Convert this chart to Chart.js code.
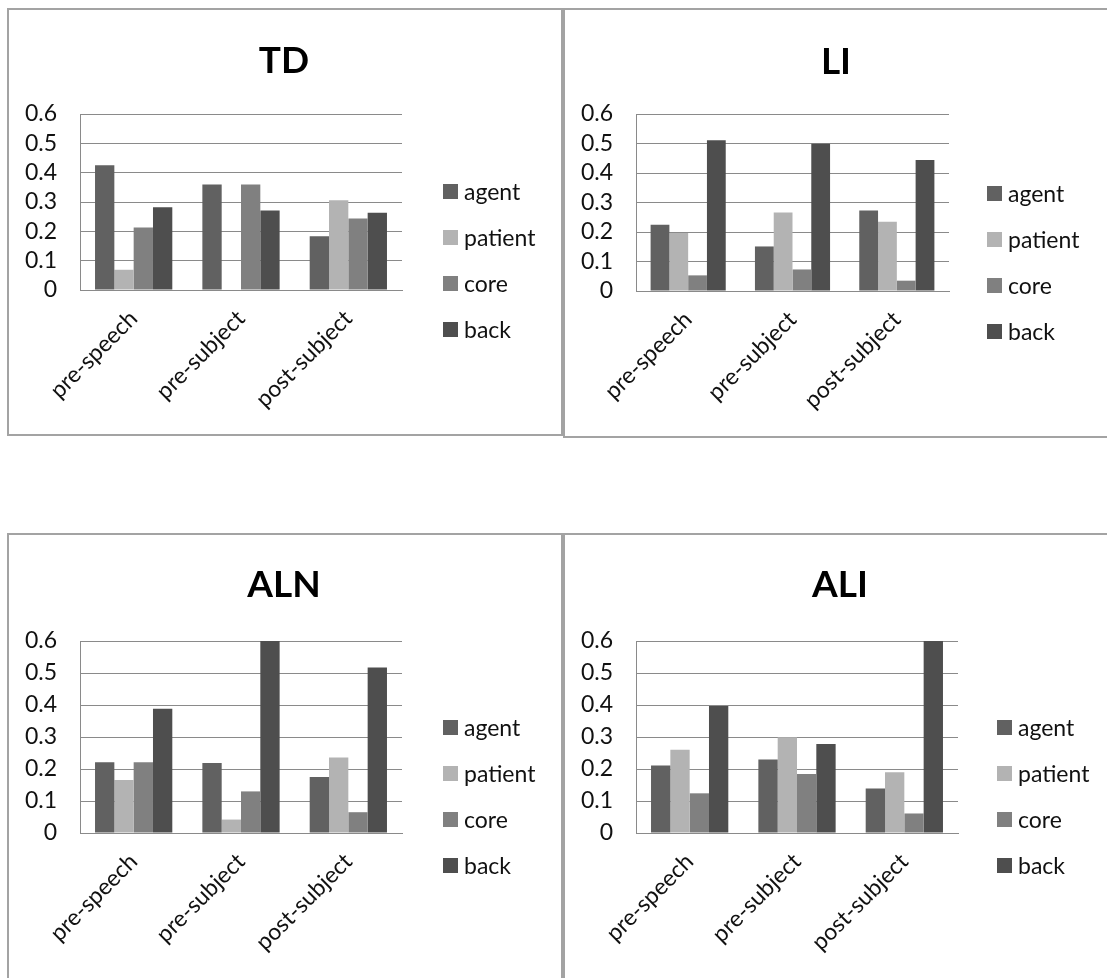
<!DOCTYPE html>
<html>
<head>
<meta charset="utf-8">
<script src="https://cdn.jsdelivr.net/npm/chart.js@4.4.1/dist/chart.umd.min.js"></script>
<style>
  html, body { margin: 0; padding: 0; background: #fff; }
  body { width: 1107px; height: 978px; position: relative; overflow: hidden; font-family: Lato, "Open Sans", sans-serif; }
  .panel { position: absolute; box-sizing: border-box; border: 2px solid #a3a3a3; background: #fff; }
  .panel canvas { position: absolute; left: 0; top: 0; }
  .title { position: absolute; font-weight: bold; font-size: 37px; color: #000; transform: translate(-50%, -50%); white-space: nowrap; }
  .legend { position: absolute; }
  .legend .item { height: 46px; display: flex; align-items: center; font-size: 23px; color: #111; }
  .legend .sw { width: 15px; height: 15px; margin-right: 6px; }
</style>
</head>
<body>
<script>
// categories and series
const categories = ['pre-speech', 'pre-subject', 'post-subject'];
const seriesNames = ['agent', 'patient', 'core', 'back'];
const yTickLabels = ['0', '0.1', '0.2', '0.3', '0.4', '0.5', '0.6'];

// TD
const tdAgent = [0.425, 0.36, 0.183];
const tdPatient = [0.069, 0, 0.306];
const tdCore = [0.213, 0.36, 0.244];
const tdBack = [0.282, 0.271, 0.263];
// LI
const liAgent = [0.225, 0.151, 0.273];
const liPatient = [0.197, 0.266, 0.235];
const liCore = [0.053, 0.073, 0.035];
const liBack = [0.511, 0.499, 0.444];
// ALN
const alnAgent = [0.221, 0.219, 0.175];
const alnPatient = [0.166, 0.042, 0.236];
const alnCore = [0.221, 0.13, 0.065];
const alnBack = [0.388, 0.6, 0.517];
// ALI
const aliAgent = [0.211, 0.23, 0.139];
const aliPatient = [0.26, 0.299, 0.19];
const aliCore = [0.124, 0.184, 0.061];
const aliBack = [0.397, 0.278, 0.6];

const colors = ['#616161', '#b3b3b3', '#808080', '#4e4e4e'];

function makePanel(p) {
    const panel = document.createElement('div');
    panel.className = 'panel';
    panel.style.left = p.left + 'px';
    panel.style.top = p.top + 'px';
    panel.style.width = p.width + 'px';
    panel.style.height = p.height + 'px';
    document.body.appendChild(panel);

    const cw = p.width - 4, ch = Math.min(p.height, 978 - p.top) - 4;
    const canvas = document.createElement('canvas');
    canvas.width = cw;
    canvas.height = ch;
    canvas.style.width = cw + 'px';
    canvas.style.height = ch + 'px';
    panel.appendChild(canvas);

    // title
    const t = document.createElement('div');
    t.className = 'title';
    t.textContent = p.title;
    t.style.left = p.titleX + 'px';
    t.style.top = p.titleY + 'px';
    document.body.appendChild(t);

    // legend
    const lg = document.createElement('div');
    lg.className = 'legend';
    lg.style.left = p.legendX + 'px';
    lg.style.top = (p.legendY - 23) + 'px';
    seriesNames.forEach(function(name, i) {
        lg.innerHTML += `<div class="item"><span class="sw" style="background:${colors[i]}"></span>${name}</div>`;
    });
    document.body.appendChild(lg);

    const ox = p.left + 2, oy = p.top + 2;
    const plotLeft = p.plotLeft - ox, plotRight = p.plotRight - ox;
    const plotTop = p.plotTop - oy, plotBottom = p.plotBottom - oy;

    new Chart(canvas.getContext('2d'), {
        type: 'bar',
        data: {
            labels: categories,
            datasets: seriesNames.map(function(name, i) {
                return {
                    label: name,
                    data: p.data[i],
                    backgroundColor: colors[i],
                    borderWidth: 0,
                    categoryPercentage: 0.72,
                    barPercentage: 1.0
                };
            })
        },
        options: {
            responsive: false,
            animation: false,
            devicePixelRatio: 1,
            layout: {
                padding: { left: 0, top: plotTop, right: cw - plotRight, bottom: 0 }
            },
            plugins: {
                legend: { display: false },
                title: { display: false },
                tooltip: { enabled: false }
            },
            scales: {
                x: {
                    grid: { display: false },
                    border: { display: true, color: '#8a8a8a', width: 1 },
                    ticks: {
                        minRotation: 45,
                        maxRotation: 45,
                        autoSkip: false,
                        padding: 7,
                        color: '#111',
                        font: { family: 'Lato', size: 23 }
                    },
                    afterFit: function(scale) { scale.height = ch - plotBottom; }
                },
                y: {
                    min: 0,
                    max: 0.6,
                    grid: { color: '#8a8a8a', lineWidth: 1, drawTicks: false },
                    border: { display: true, color: '#8a8a8a', width: 1 },
                    ticks: {
                        stepSize: 0.1,
                        autoSkip: false,
                        padding: 23,
                        color: '#111',
                        font: { family: 'Lato', size: 23 },
                        callback: function(v, i) { return yTickLabels[i]; }
                    },
                    afterFit: function(scale) { scale.width = plotLeft; }
                }
            }
        }
    });
}

makePanel({
    title: 'TD', left: 7, top: 8, width: 556, height: 428,
    titleX: 284, titleY: 58,
    plotLeft: 80, plotRight: 402, plotTop: 114, plotBottom: 290,
    legendX: 443, legendY: 191,
    data: [tdAgent, tdPatient, tdCore, tdBack]
});
makePanel({
    title: 'LI', left: 563, top: 8, width: 560, height: 430,
    titleX: 836, titleY: 59,
    plotLeft: 636, plotRight: 949, plotTop: 114, plotBottom: 291,
    legendX: 987, legendY: 193,
    data: [liAgent, liPatient, liCore, liBack]
});
makePanel({
    title: 'ALN', left: 7, top: 533, width: 556, height: 470,
    titleX: 284, titleY: 582,
    plotLeft: 80, plotRight: 402, plotTop: 641, plotBottom: 833,
    legendX: 443, legendY: 727,
    data: [alnAgent, alnPatient, alnCore, alnBack]
});
makePanel({
    title: 'ALI', left: 563, top: 533, width: 560, height: 470,
    titleX: 840, titleY: 582,
    plotLeft: 636, plotRight: 958, plotTop: 641, plotBottom: 833,
    legendX: 997, legendY: 727,
    data: [aliAgent, aliPatient, aliCore, aliBack]
});
</script>
</body>
</html>
